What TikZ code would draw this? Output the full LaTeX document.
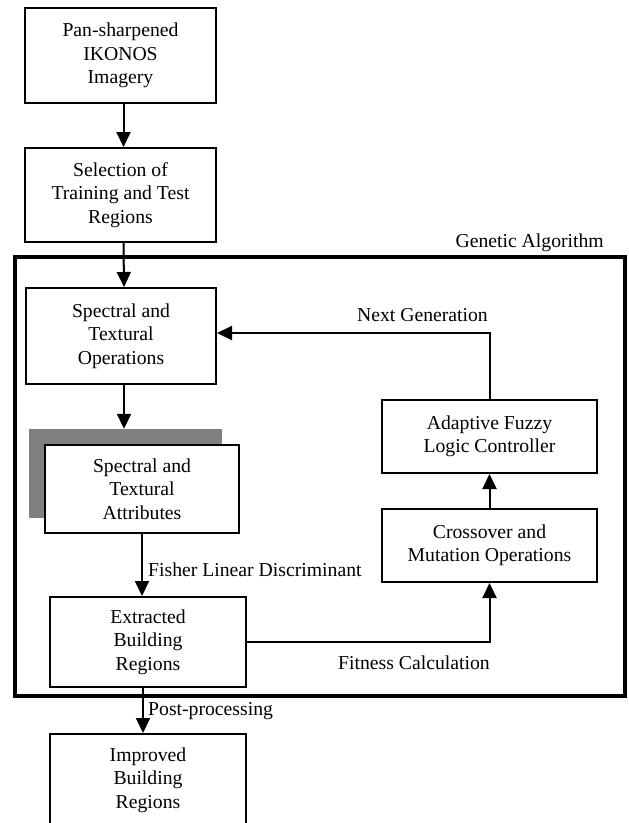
\documentclass[tikz,border=0pt]{standalone}
\usepackage{fontspec}
\setmainfont{Liberation Serif}
\usetikzlibrary{arrows.meta}
\definecolor{shadowgray}{RGB}{128,128,128}
\begin{document}
\begin{tikzpicture}[x=1pt,y=-1pt,
  box/.style={draw=black, line width=2pt, fill=white, align=center, inner sep=0pt,
    font=\fontsize{19.7}{23.5}\selectfont},
  shadowbox/.style={fill=shadowgray, inner sep=0pt},
  gabox/.style={draw=black, line width=4.5pt, inner sep=0pt},
  lbl/.style={inner sep=0pt, font=\fontsize{19.7}{23.5}\selectfont},
  arr/.style={line width=2pt, -{Triangle[width=14pt,length=15pt]}}]
\clip (0,0) rectangle (629,823);
\useasboundingbox (0,0) rectangle (629,823);

% Genetic algorithm frame
\node[gabox, minimum width=610pt, minimum height=439pt] (ga) at (320,476.5) {};
\node[lbl, anchor=east] (galbl) at (604,243) {Genetic Algorithm};

% boxes
\node[box, minimum width=191pt, minimum height=95pt] (b1) at (120.5,55.5) {Pan-sharpened\\IKONOS\\Imagery};
\node[box, minimum width=191pt, minimum height=94pt] (b2) at (120.5,195) {Selection of\\Training and Test\\Regions};
\node[box, minimum width=190pt, minimum height=96pt] (b3) at (121,336) {Spectral and\\Textural\\Operations};
\node[shadowbox, minimum width=193pt, minimum height=89pt] (b4s) at (125.5,473.5) {};
\node[box, minimum width=194pt, minimum height=88pt] (b4) at (142,489) {Spectral and\\Textural\\Attributes};
\node[box, minimum width=196pt, minimum height=90pt] (b5) at (148,642) {Extracted\\Building\\Regions};
\node[box, minimum width=196pt, minimum height=92pt] (b6) at (148,780) {Improved\\Building\\Regions};
\node[box, minimum width=215pt, minimum height=73pt] (af) at (489.5,436.5) {Adaptive Fuzzy\\Logic Controller};
\node[box, minimum width=215pt, minimum height=73pt] (cr) at (489.5,545.5) {Crossover and\\Mutation Operations};

% connectors
\draw[arr] ([xshift=3pt]b1.south) -- ([xshift=3pt]b2.north);
\draw[arr] ([xshift=3pt]b2.south) -- ([xshift=3pt]b3.north);
\draw[arr] ([xshift=3pt]b3.south) -- ([xshift=3pt]b3.south |- b4s.north);
\draw[arr] (b4.south) -- (b4.south |- b5.north);
\draw[arr] ([xshift=-5pt]b5.south) -- ([xshift=-5pt]b6.north);
\draw[arr] (b5.east) -| (cr.south);
\draw[arr] (cr.north) -- (af.south);
\draw[arr] (af.north) |- ([yshift=3pt]b3.east);

% labels
\node[lbl, anchor=west] (lfld) at (148,570) {Fisher Linear Discriminant};
\node[lbl, anchor=west] (lpp) at (148,711) {Post-processing};
\node[lbl, anchor=east] (lfit) at (490,662.5) {Fitness Calculation};
\node[lbl, anchor=east] (lng) at (488,315) {Next Generation};
\end{tikzpicture}
\end{document}
